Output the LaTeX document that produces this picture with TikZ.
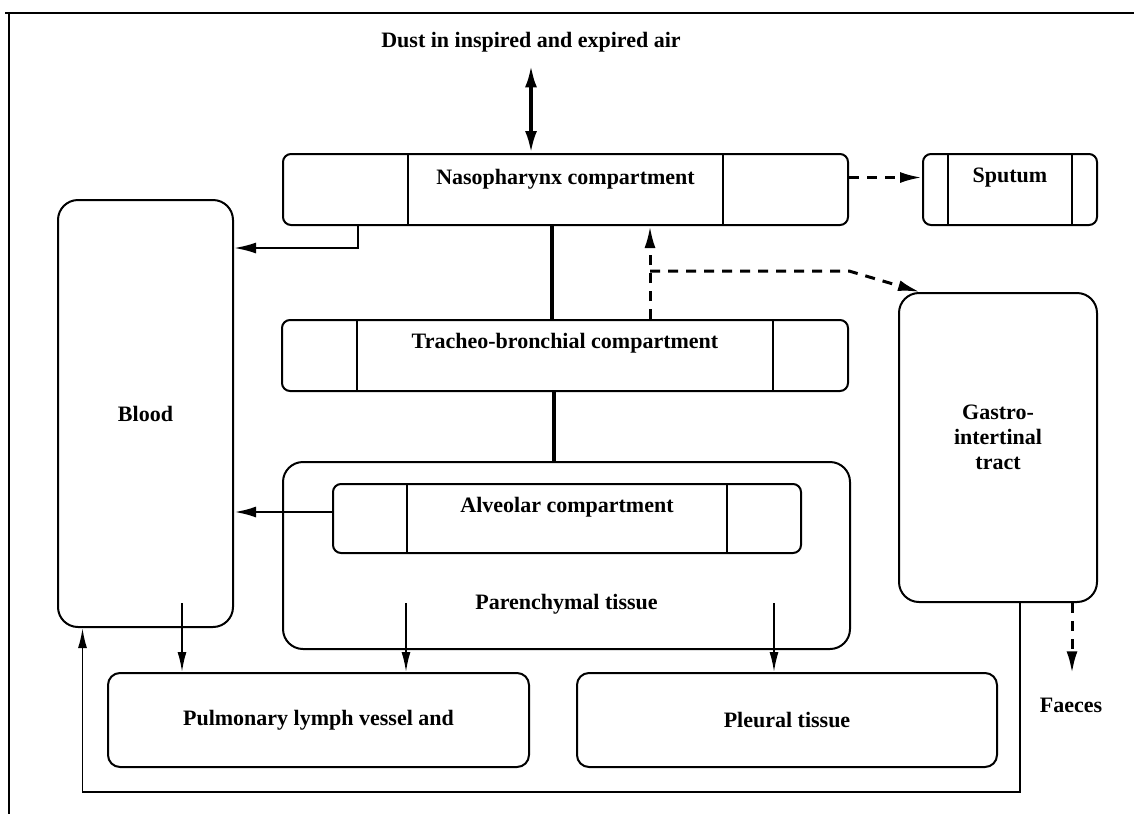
\documentclass[tikz,border=0pt]{standalone}
\usepackage{fontspec}
\setmainfont{Liberation Serif}
\usetikzlibrary{arrows.meta,positioning}

\tikzset{
  box/.style={draw,line width=1pt,rounded corners=#1,inner sep=0pt},
  box/.default=4pt,
  split/.style={path picture={
      \draw[line width=1pt] ([xshift=#1]path picture bounding box.north west) -- ([xshift=#1]path picture bounding box.south west);
      \draw[line width=1pt] ([xshift=-#1]path picture bounding box.north east) -- ([xshift=-#1]path picture bounding box.south east);}},
  lab/.style={font=\fontsize{11}{12.5}\selectfont\bfseries,inner sep=0pt,align=center},
  link/.style={line width=1.8pt},
  flow/.style={line width=1.4pt,-{Latex[length=11pt,width=5.5pt]}},
  both/.style={line width=1.8pt,{Latex[length=11pt,width=6pt]}-{Latex[length=11pt,width=6pt]}},
  tflow/.style={line width=0.9pt,-{Latex[length=10pt,width=4.5pt]}},
  dflow/.style={line width=1.5pt,dash pattern=on 5pt off 4pt,-{Latex[length=11pt,width=5.5pt]}}
}

\begin{document}
\begin{tikzpicture}[x=0.5pt,y=-0.5pt]
\useasboundingbox (0,0) rectangle (1134,814);
\draw[line width=1pt] (5,13) -- (1134,13) (9,13) -- (9,814);

% compartments
\node[lab] (dust) at (531,42) {Dust in inspired and expired air};
\node[box,split=62.5pt,minimum width=282.5pt,minimum height=35.5pt] (naso) at (565.5,189.5) {};
\node[lab] (nasoT) at ([yshift=-13pt]naso.north) {Nasopharynx compartment};
\node[box,split=12.5pt,minimum width=87pt,minimum height=35.5pt] (sput) at (1010,189.5) {};
\node[lab] (sputT) at ([yshift=-12.5pt]sput.north) {Sputum};
\node[box,split=37.5pt,minimum width=283pt,minimum height=35.5pt] (trach) at (565,355.5) {};
\node[lab] (trachT) at ([yshift=-12pt]trach.north) {Tracheo-bronchial compartment};
\node[box=10pt,minimum width=283.5pt,minimum height=93.5pt] (paren) at (566.5,555.5) {};
\node[lab] (parenT) at ([yshift=23pt]paren.south) {Parenchymal tissue};
\node[box,split=37pt,minimum width=234pt,minimum height=34.5pt] (alv) at (567,518.5) {};
\node[lab] (alvT) at ([yshift=-12pt]alv.north) {Alveolar compartment};
\node[box=10pt,lab,minimum width=87.5pt,minimum height=213.5pt] (blood) at (145.5,413.5) {Blood};
\node[box=10pt,minimum width=99pt,minimum height=154.5pt] (gi) at (998,447.5) {};
\node[lab] (giT) at ([yshift=5pt]gi.center) {Gastro-\\intertinal\\tract};
\node[box=6pt,lab,minimum width=210.5pt,minimum height=47pt] (lymph) at (318.5,720) {Pulmonary lymph vessel and};
\node[box=6pt,lab,minimum width=210pt,minimum height=47pt] (pleura) at (787,720) {Pleural tissue};
\node[lab] (faeces) at (1071,705) {Faeces};

% transfers
\draw[both] ([yshift=-6.5pt]dust.south) -- (dust.south |- naso.north);
\draw[dflow] ([yshift=6pt]naso.east) -- ([yshift=6pt]sput.west);
\draw[flow,line width=1.1pt] ([xshift=-103.75pt]naso.south) |- ([yshift=82.75pt]blood.east);
\draw[link] ([xshift=-6.75pt]naso.south) -- ([xshift=-6.75pt]naso.south |- trach.north);
\draw[link] ([xshift=-5.5pt]trach.south) -- ([xshift=-5.5pt]trach.south |- paren.north);
\draw[dflow] ([xshift=42.5pt]trach.north) -- ([xshift=42.5pt]trach.north |- naso.south);
\coordinate (fork) at ([xshift=42.5pt,yshift=24pt]trach.north);
\draw[dflow] (fork) -- (fork -| naso.east) -- ([xshift=-39pt]gi.north);
\draw[flow] ([yshift=3.25pt]alv.west) -- ([yshift=3.25pt]alv.west -| blood.east);
\draw[tflow] ([xshift=18.25pt,yshift=12.5pt]blood.south) -- ([xshift=18.25pt]blood.south |- lymph.north);
\draw[tflow] ([xshift=-80.25pt,yshift=23.5pt]paren.south) -- ([xshift=-80.25pt]paren.south |- lymph.north);
\draw[tflow] ([xshift=103.75pt,yshift=23.5pt]paren.south) -- ([xshift=103.75pt]paren.south |- pleura.north);
\coordinate (low) at (560,792);
\draw[tflow] ([xshift=11pt]gi.south) |- (low) -| ([xshift=-31.5pt]blood.south);
\draw[dflow,shorten >=12pt] ([xshift=37pt]gi.south) -- ([xshift=37pt]gi.south |- faeces.north);
\end{tikzpicture}
\end{document}
